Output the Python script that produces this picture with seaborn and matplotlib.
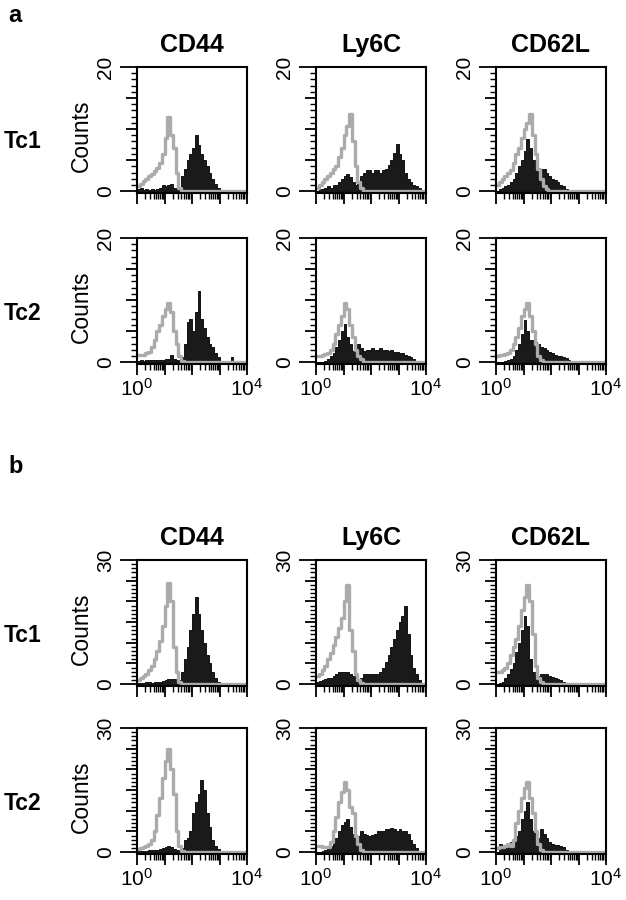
import numpy as np
import pandas as pd
import seaborn as sns
import matplotlib.pyplot as plt
from matplotlib.ticker import FixedLocator, MultipleLocator

# flow histograms, 40 channels of 0.1 decade each (10^0 .. 10^4)
# ctrl = grey isotype outline, stain = black filled histogram

# ---- panel a (y axis 0-20) ----
a_tc1_cd44_ctrl = [0.8, 1.2, 1.6, 2.0, 2.4, 2.8, 3.2, 3.8, 4.5, 6.0,
                   8.5, 12, 9, 7, 3, 0.5, 0, 0, 0, 0,
                   0, 0, 0, 0, 0, 0, 0, 0, 0, 0,
                   0, 0, 0, 0, 0, 0, 0, 0, 0, 0]
a_tc1_cd44_stain = [0.3, 0.5, 0.2, 0.3, 0.2, 0.3, 0.2, 0.3, 0.5, 1.0,
                    0.8, 1.0, 1.2, 0.5, 0.3, 0.5, 2.5, 3.5, 5, 6,
                    7, 9, 7.5, 6, 5, 4, 3, 2, 1.2, 0.5,
                    0.2, 0, 0, 0, 0, 0, 0, 0, 0, 0]
a_tc1_ly6c_ctrl = [0.5, 1, 1.5, 2, 2.5, 3, 3.5, 4, 5.5, 7,
                   9, 10.5, 12.5, 8, 4, 1.5, 0.5, 0, 0, 0,
                   0, 0, 0, 0, 0, 0, 0, 0, 0, 0,
                   0, 0, 0, 0, 0, 0, 0, 0, 0, 0]
a_tc1_ly6c_stain = [0, 0.3, 0.3, 0.5, 0.8, 0.5, 1, 1, 1.5, 2,
                    2.5, 2.8, 2.2, 1.5, 1, 1.5, 2.5, 3, 3.4, 3.4,
                    3, 3.4, 3.4, 3, 3.4, 3.5, 4.2, 5, 6.2, 7.6,
                    6, 5, 3, 2, 1.5, 1, 0.8, 0.5, 0.2, 0]
a_tc1_cd62l_ctrl = [1, 1.5, 2, 2.5, 3, 3.4, 4.5, 6, 7, 8.5,
                    10, 11, 12.5, 9, 6, 3.5, 2, 0.8, 0.3, 0,
                    0, 0, 0, 0, 0, 0, 0, 0, 0, 0,
                    0, 0, 0, 0, 0, 0, 0, 0, 0, 0]
a_tc1_cd62l_stain = [0, 0.3, 0.5, 0.8, 1, 1.5, 2, 3, 4, 5,
                     6.5, 8.4, 7, 5, 4.5, 3.8, 3.5, 3.5, 3, 2.5,
                     2, 1.8, 1.5, 1, 0.8, 0.3, 0, 0, 0, 0,
                     0, 0, 0, 0, 0, 0, 0, 0, 0, 0]
a_tc2_cd44_ctrl = [1.2, 1.2, 1.2, 1.4, 1.6, 2.5, 3.5, 5, 6, 7.5,
                   8.5, 9.5, 8, 5, 3, 1, 0.2, 0, 0, 0,
                   0, 0, 0, 0, 0, 0, 0, 0, 0, 0,
                   0, 0, 0, 0, 0, 0, 0, 0, 0, 0]
a_tc2_cd44_stain = [0.2, 0.3, 0.2, 0.3, 0.3, 0.3, 0.4, 0.3, 0.3, 0.4,
                    0.5, 0.5, 1.2, 0.5, 0.3, 0.3, 0.8, 3, 6.5, 7,
                    5, 8, 11.4, 7, 5.5, 4, 3, 2.5, 1.5, 0.8,
                    0.2, 0, 0, 0, 0.8, 0, 0, 0, 0, 0]
a_tc2_ly6c_ctrl = [1, 1, 1.2, 1.3, 1.5, 2, 3, 4.5, 6, 7.5,
                   9.5, 8.5, 6, 4, 2, 1, 0.5, 0, 0, 0,
                   0, 0, 0, 0, 0, 0, 0, 0, 0, 0,
                   0, 0, 0, 0, 0, 0, 0, 0, 0, 0]
a_tc2_ly6c_stain = [0, 0, 0, 0.2, 0.5, 1, 1.5, 2.5, 3.5, 5,
                    6.1, 4, 3, 1.8, 1.5, 3, 2.2, 1.8, 2, 2,
                    2.2, 2, 2, 2.2, 2, 2, 1.8, 2, 1.6, 1.6,
                    1.4, 1.5, 1.2, 1, 0.8, 0.5, 0.2, 0, 0, 0]
a_tc2_cd62l_ctrl = [1, 1.1, 1.2, 1.3, 1.5, 2, 3, 4, 5.5, 7.5,
                    8.5, 9.5, 7.5, 5, 3, 1, 0.3, 0, 0, 0,
                    0, 0, 0, 0, 0, 0, 0, 0, 0, 0,
                    0, 0, 0, 0, 0, 0, 0, 0, 0, 0]
a_tc2_cd62l_stain = [0, 0, 0, 0.2, 0.3, 0.5, 1, 2, 3, 4.5,
                     6.8, 5, 3.5, 3.5, 3.2, 3, 2.5, 2.2, 2, 1.6,
                     1.5, 1.2, 1, 1, 0.8, 0.6, 0.4, 0.2, 0, 0,
                     0, 0, 0, 0, 0, 0, 0, 0, 0, 0]

# ---- panel b (y axis 0-30) ----
b_tc1_cd44_ctrl = [1, 1.5, 2, 2.5, 3.5, 4.5, 6, 8, 10.5, 14,
                   19, 24.5, 20, 9, 3, 0.5, 0, 0, 0, 0,
                   0, 0, 0, 0, 0, 0, 0, 0, 0, 0,
                   0, 0, 0, 0, 0, 0, 0, 0, 0, 0]
b_tc1_cd44_stain = [0.2, 0.3, 0.3, 0.5, 0.5, 0.3, 0.5, 0.5, 0.5, 0.8,
                    1, 1.2, 1.2, 1.2, 1, 1, 3, 6, 9, 13,
                    17, 21, 17, 13, 10, 7, 5, 3, 1.5, 0.5,
                    0.2, 0, 0, 0, 0, 0, 0, 0, 0, 0]
b_tc1_ly6c_ctrl = [2, 2.5, 3.5, 4.5, 6, 7.5, 9.5, 11.5, 13.5, 16,
                   20, 24, 13, 8, 2.5, 1, 0.3, 0, 0, 0,
                   0, 0, 0, 0, 0, 0, 0, 0, 0, 0,
                   0, 0, 0, 0, 0, 0, 0, 0, 0, 0]
b_tc1_ly6c_stain = [0.5, 0.8, 1, 1.3, 1.5, 1.5, 2, 2.5, 3, 3,
                    3, 3, 2.5, 2, 1.5, 1, 1.5, 2.5, 2.5, 2.5,
                    2.5, 2.5, 2.5, 3, 4, 5.3, 7, 9, 11, 13,
                    15, 16.5, 19, 12, 7, 4, 2.5, 1, 0.3, 0]
b_tc1_cd62l_ctrl = [3, 3, 3.5, 4, 5, 7, 9, 11, 14, 18,
                    21, 24, 20, 12, 4.5, 1.5, 0.5, 0, 0, 0,
                    0, 0, 0, 0, 0, 0, 0, 0, 0, 0,
                    0, 0, 0, 0, 0, 0, 0, 0, 0, 0]
b_tc1_cd62l_stain = [0, 0.3, 0.5, 1.5, 2.5, 3.7, 5, 7.7, 10, 13,
                     16.4, 14, 6, 3, 2, 2, 2.5, 2.5, 2.5, 2,
                     1.8, 1.5, 1.2, 1, 0.5, 0.2, 0, 0, 0, 0,
                     0, 0, 0, 0, 0, 0, 0, 0, 0, 0]
b_tc2_cd44_ctrl = [0.8, 1, 1.2, 1.5, 2, 3, 5, 9, 13, 18,
                   22, 25, 20, 14, 5, 1.5, 0.3, 0, 0, 0,
                   0, 0, 0, 0, 0, 0, 0, 0, 0, 0,
                   0, 0, 0, 0, 0, 0, 0, 0, 0, 0]
b_tc2_cd44_stain = [0.2, 0.3, 0.3, 0.3, 0.5, 0.5, 0.5, 0.5, 0.8, 1,
                    1.2, 1.5, 1.2, 0.8, 0.5, 0.5, 1, 3, 3.5, 5,
                    9.4, 12, 14, 17.5, 15, 9.4, 6, 3, 1.5, 0.8,
                    0.2, 0, 0, 0, 0, 0, 0, 0, 0, 0]
b_tc2_ly6c_ctrl = [1.5, 1.5, 1.3, 1.3, 1.3, 2.5, 5, 8.5, 12, 14.5,
                   17, 15, 11, 9.4, 4, 2, 0.5, 0, 0, 0,
                   0, 0, 0, 0, 0, 0, 0, 0, 0, 0,
                   0, 0, 0, 0, 0, 0, 0, 0, 0, 0]
b_tc2_ly6c_stain = [0, 0, 0.2, 0.5, 1, 1.5, 2.5, 3.5, 5, 6.5,
                    7.3, 8, 6, 4.5, 3.5, 3.8, 5, 4.5, 4.2, 4,
                    4.2, 4.5, 5, 5.2, 5, 5.5, 5.5, 5.8, 5.5, 5.2,
                    5.5, 5.2, 5, 4.5, 3, 2, 1, 0.3, 0, 0]
b_tc2_cd62l_ctrl = [1, 1.2, 1.3, 1.5, 2, 1.5, 3, 7, 10, 13,
                    15.5, 17, 13, 9.4, 5, 2, 0.5, 0, 0, 0,
                    0, 0, 0, 0, 0, 0, 0, 0, 0, 0,
                    0, 0, 0, 0, 0, 0, 0, 0, 0, 0]
b_tc2_cd62l_stain = [0, 2, 1, 1, 1.5, 2.5, 3, 4, 5, 8,
                     10, 12, 8, 5, 4, 3.5, 5.5, 4.5, 3.5, 2.5,
                     2, 1.7, 1.7, 1.5, 1.2, 0.6, 0.2, 0, 0, 0,
                     0, 0, 0, 0, 0, 0, 0, 0, 0, 0]

blocks = ["a", "b"]
cells = ["Tc1", "Tc2"]
markers = ["CD44", "Ly6C", "CD62L"]
ymax = {"a": 20, "b": 30}

n_ch = 40
centers = (np.arange(n_ch) + 0.5) * 4 / n_ch  # channel centres in log10 units

# build one long table for seaborn
rows = []
for blk in blocks:
    for cell in cells:
        for m in markers:
            for series in ["ctrl", "stain"]:
                vals = globals()[f"{blk}_{cell.lower()}_{m.lower()}_{series}"]
                for c, v in zip(centers, vals):
                    rows.append((blk, cell, m, series, c, v))
df = pd.DataFrame(rows, columns=["block", "cell", "marker", "series", "log_fl", "count"])

sns.set_style("white")
plt.rcParams['font.family'] = ['Liberation Sans', 'DejaVu Sans']
plt.rcParams['mathtext.default'] = 'regular'
plt.rcParams['text.color'] = 'black'
plt.rcParams['xtick.color'] = 'black'
plt.rcParams['ytick.color'] = 'black'

W, H = 626, 900
fig = plt.figure(figsize=(W / 100, H / 100), dpi=100)

col_left = [137, 316, 496]
ax_w, ax_h = 110, 126
row_top = {"a": [67, 238], "b": [560, 728]}
title_y = {"a": 45, "b": 538}
letter_y = {"a": 15, "b": 467}

minor_x = [d + np.log10(k) for d in range(4) for k in range(2, 10)]

for blk in blocks:
    fig.text(8 / W, 1 - letter_y[blk] / H, blk, fontsize=17, weight="bold", va="center")
    for r, cell in enumerate(cells):
        top = row_top[blk][r]
        fig.text(23 / W, 1 - (top + ax_h / 2 + 12) / H, cell, fontsize=16.5, weight="bold",
                 ha="center", va="center")
        for c, m in enumerate(markers):
            ax = fig.add_axes([col_left[c] / W, 1 - (top + ax_h) / H, ax_w / W, ax_h / H])
            sub = df[(df.block == blk) & (df.cell == cell) & (df.marker == m)]
            sns.histplot(data=sub[sub.series == "stain"], x="log_fl", weights="count",
                         binwidth=0.1, binrange=(0, 4), element="step", fill=True,
                         color="#1a1a1a", edgecolor="black", alpha=1, linewidth=0.6, ax=ax)
            sns.histplot(data=sub[sub.series == "ctrl"], x="log_fl", weights="count",
                         binwidth=0.1, binrange=(0, 4), element="step", fill=False,
                         color="#ababab", linewidth=2.4, ax=ax)
            yt = ymax[blk]
            ax.set_xlim(0, 4)
            ax.set_ylim(-yt * 0.015, yt)
            ax.set_xlabel("")
            ax.set_ylabel("")

            ax.set_xticks([0, 1, 2, 3, 4])
            ax.xaxis.set_minor_locator(FixedLocator(minor_x))
            if r == 1:
                ax.set_xticklabels(["$10^{0}$", "", "", "", "$10^{4}$"], fontsize=15)
            else:
                ax.set_xticklabels([])
            ax.set_yticks(list(range(0, yt + 1, 5)))
            ax.set_yticklabels(["0"] + [""] * (yt // 5 - 1) + [str(yt)],
                               rotation=90, va="center", fontsize=15)
            ax.yaxis.set_minor_locator(MultipleLocator(1))
            ax.tick_params(which="major", direction="out", length=8, width=1.3, color="black",
                           labelcolor="black", bottom=True, left=True, pad=2)
            ax.tick_params(axis="y", which="major", pad=8)
            ax.tick_params(which="minor", direction="out", length=4, width=1.0, color="black",
                           bottom=True, left=True)
            # end ticks of the count axis are drawn longer
            for t in ax.yaxis.get_major_ticks():
                if t.get_loc() in (0, yt):
                    t.tick1line.set_markersize(12)
            for s in ax.spines.values():
                s.set_linewidth(1.5)
                s.set_color("black")

            if r == 0:
                fig.text((col_left[c] + ax_w / 2) / W, 1 - title_y[blk] / H, m, fontsize=18,
                         weight="bold", ha="center", va="center")
            if c == 0:
                fig.text(81 / W, 1 - (top + ax_h / 2 + 6) / H, "Counts", fontsize=16.5,
                         rotation=90, ha="center", va="center")

fig.savefig("out.png", dpi=100)
